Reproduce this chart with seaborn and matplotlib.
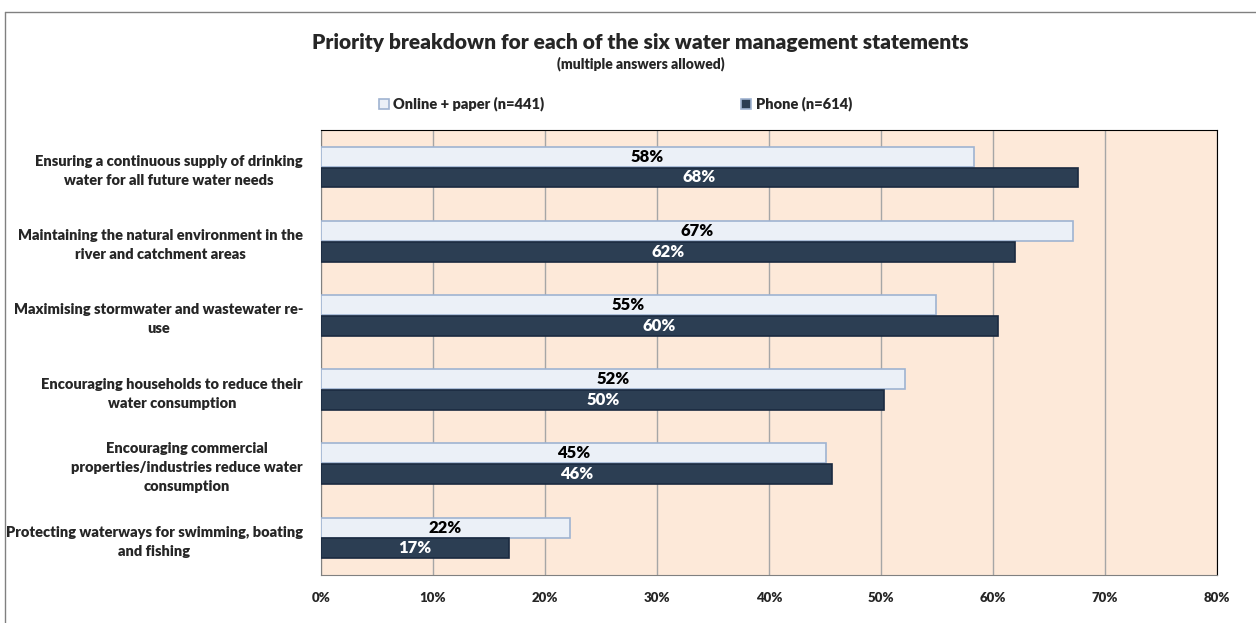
import pandas as pd
import matplotlib.pyplot as plt
import seaborn as sns
from matplotlib.lines import Line2D

# data
statements = [
    "Ensuring a continuous supply of drinking\nwater for all future water needs",
    "Maintaining the natural environment in the\nriver and catchment areas",
    "Maximising stormwater and wastewater re-\nuse",
    "Encouraging households to reduce their\nwater consumption",
    "Encouraging commercial\nproperties/industries reduce water\nconsumption",
    "Protecting waterways for swimming, boating\nand fishing",
]
online_paper = [58.3, 67.1, 54.9, 52.1, 45.1, 22.2]
phone = [67.6, 62.0, 60.4, 50.3, 45.6, 16.8]
series_names = ["Online + paper (n=441)", "Phone (n=614)"]
x_ticks = [0, 10, 20, 30, 40, 50, 60, 70, 80]

df = pd.DataFrame({
    "Statement": statements * 2,
    "Percent": online_paper + phone,
    "Mode": [series_names[0]] * 6 + [series_names[1]] * 6,
})

sns.set_style("white")
plt.rcParams["font.family"] = ["Lato", "DejaVu Sans"]
W = "heavy"

fig = plt.figure(figsize=(12.56, 6.23), dpi=100)
ax = fig.add_axes([0.2556, 0.077, 0.7134, 0.7143])
ax.set_facecolor("#FDE9D9")

sns.barplot(data=df, y="Statement", x="Percent", hue="Mode", orient="h",
            palette=["#E9EFF9", "#253D5A"], width=0.56, gap=0.04,
            edgecolor="#9FB3D1", linewidth=1.2, ax=ax, zorder=3)

# darker edge for phone bars, labels inside bars
for i, cont in enumerate(ax.containers):
    for bar in cont:
        if i == 1:
            bar.set_edgecolor("#1A2A40")
    ax.bar_label(cont, labels=[f"{b.get_width():.0f}%" for b in cont],
                 label_type="center", fontsize=12, fontweight=W,
                 color="black" if i == 0 else "white", zorder=5)

ax.set_xlim(0, 80)
ax.set_xticks(x_ticks)
ax.set_xticklabels([f"{t}%" for t in x_ticks], fontsize=9.5, fontweight=W)
ax.grid(axis="x", color="#A6A6A6", linewidth=1, zorder=0)
ax.set_axisbelow(True)
ax.set_xlabel("")
ax.set_ylabel("")

# category boundary ticks on the y axis
ax.set_yticks([i + 0.5 for i in range(5)], minor=True)
ax.tick_params(axis="y", which="major", length=0, pad=13)
ax.tick_params(axis="y", which="minor", length=5, color="#808080", direction="out")
ax.tick_params(axis="x", length=4, color="#808080", direction="out", pad=8)
for lab in ax.get_yticklabels():
    lab.set_fontsize(10.5)
    lab.set_fontweight(W)
    lab.set_multialignment("center")
    lab.set_linespacing(1.55)

for side in ["left", "bottom"]:
    ax.spines[side].set_color("#808080")
for side in ["top", "right"]:
    ax.spines[side].set_color("black")
    ax.spines[side].set_linewidth(0.8)

handles, labels = ax.get_legend_handles_labels()
ax.legend(handles, labels, loc="center left", bbox_to_anchor=(0.291, 0.833),
          bbox_transform=fig.transFigure, ncol=2, frameon=False,
          handlelength=0.7, handleheight=0.7, handletextpad=0.3,
          columnspacing=13.5, prop={"weight": W, "size": 10.5})

fig.text(0.51, 0.932, "Priority breakdown for each of the six water management statements",
         ha="center", va="center", fontsize=15, fontweight=W)
fig.text(0.51, 0.897, "(multiple answers allowed)", ha="center", va="center",
         fontsize=10, fontweight=W)

# outer chart frame (left and top edges)
fig.add_artist(Line2D([0.004, 0.004], [0, 0.981], color="#808080", linewidth=1))
fig.add_artist(Line2D([0.004, 1], [0.981, 0.981], color="#808080", linewidth=1))

fig.savefig("out.png", dpi=100)
